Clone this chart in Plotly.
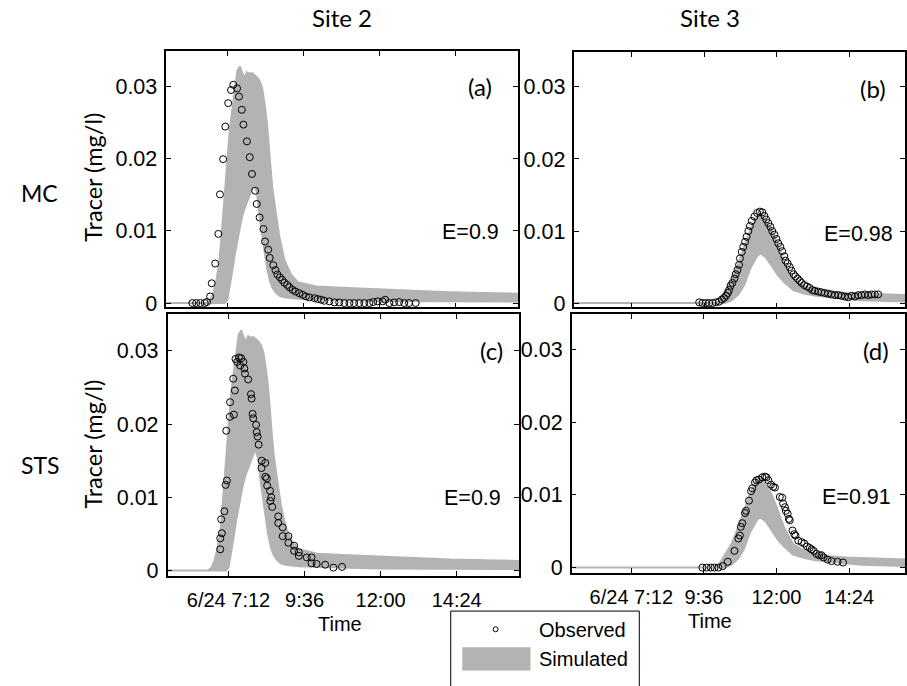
import plotly.graph_objects as go

# ---------------- data (time = hours of 6/24, concentration = mg/l) ----------------
tick_vals = [7.2, 9.6, 12.0, 14.4]
tick_text = ["6/24 7:12", "9:36", "12:00", "14:24"]
y_tick_vals = [0, 0.01, 0.02, 0.03]
y_tick_text = ["0", "0.01", "0.02", "0.03"]

# Site 2 simulated envelope
sim2_time = [5.28, 6.55, 6.65, 6.75, 6.85, 6.95, 7.05, 7.12, 7.20, 7.28, 7.36, 7.44, 7.52, 7.60, 7.68,
             7.75, 7.82, 7.90, 7.98, 8.06, 8.14, 8.22, 8.30, 8.38, 8.45, 8.55, 8.62, 8.72, 8.85, 9.00,
             9.20, 9.42, 10.0, 11.0, 12.0, 13.1, 14.2, 15.3, 16.36]
sim2_upper = [0, 0, 0.0003, 0.0012, 0.0030, 0.0055, 0.0110, 0.0150, 0.0205, 0.0240, 0.0268, 0.0297,
              0.0322, 0.0328, 0.0318, 0.0313, 0.0320, 0.0318, 0.0319, 0.0316, 0.0313, 0.0308, 0.0298,
              0.0275, 0.0250, 0.0195, 0.0160, 0.0128, 0.0090, 0.0060, 0.0040, 0.0029, 0.0023, 0.0021,
              0.0019, 0.0017, 0.0015, 0.0014, 0.0013]
sim2_lower = [0, 0, 0, 0, 0, 0, 0, 0, 0.0004, 0.0022, 0.0045, 0.0068, 0.0088, 0.0105, 0.0122, 0.0132,
              0.0140, 0.0150, 0.0158, 0.0165, 0.0152, 0.0120, 0.0093, 0.0070, 0.0050, 0.0030, 0.0022,
              0.0015, 0.0010, 0.0008, 0.0007, 0.0006, 0.0005, 0.0004, 0.0003, 0.0003, 0.0002, 0.0002,
              0.0002]

# Site 3 simulated envelope
sim3_time = [5.27, 9.90, 10.07, 10.29, 10.51, 10.73, 10.92, 11.12, 11.33, 11.45, 11.63, 11.83, 12.05,
             12.25, 12.55, 12.93, 13.30, 13.70, 14.30, 14.81, 15.50, 16.36]
sim3_upper = [0, 0, 0.0002, 0.0018, 0.0032, 0.0055, 0.0078, 0.0101, 0.0119, 0.0123, 0.0114, 0.0101,
              0.0078, 0.0055, 0.0032, 0.0023, 0.0019, 0.0016, 0.0014, 0.0013, 0.0012, 0.0011]
sim3_lower = [0, 0, 0, 0, 0.0004, 0.0012, 0.0025, 0.0048, 0.0064, 0.0069, 0.0064, 0.0052, 0.0038,
              0.0029, 0.0018, 0.0013, 0.0010, 0.0008, 0.0006, 0.0004, 0.0003, 0.0002]

# (a) MC, Site 2 observed
obs_a_time = [6.10, 6.22, 6.35, 6.49, 6.56, 6.66, 6.71, 6.82, 6.92, 6.97, 7.07, 7.14, 7.23, 7.32, 7.39,
              7.51, 7.57, 7.66, 7.71, 7.82, 7.91, 7.98, 8.08, 8.13, 8.22, 8.34, 8.39, 8.49, 8.54, 8.65,
              8.72, 8.78, 8.86, 8.93, 9.00, 9.09, 9.16, 9.26, 9.35, 9.47, 9.58, 9.68, 9.79, 9.95, 10.05,
              10.16, 10.26, 10.42, 10.58, 10.73, 10.89, 11.05, 11.20, 11.36, 11.52, 11.68, 11.80, 11.94,
              12.10, 12.18, 12.31, 12.46, 12.62, 12.78, 12.93, 13.14]
obs_a_conc = [0, 0, 0, 0, 0.00014, 0.00091, 0.00274, 0.00548, 0.00959, 0.01507, 0.01995, 0.02447,
              0.02772, 0.02954, 0.03027, 0.02977, 0.02863, 0.02680, 0.02475, 0.02242, 0.02023, 0.01790,
              0.01557, 0.01374, 0.01187, 0.01027, 0.00854, 0.00740, 0.00626, 0.00525, 0.00457, 0.00397,
              0.00356, 0.00320, 0.00283, 0.00251, 0.00219, 0.00183, 0.00160, 0.00137, 0.00114, 0.00091,
              0.00078, 0.00068, 0.00055, 0.00046, 0.00032, 0.00023, 0.00009, 0.00009, 0, 0, 0, 0, 0, 0,
              0.00014, 0.00023, 0.00023, 0.00046, 0, 0.00009, 0.00014, 0, 0, 0]

# (b) MC, Site 3 observed
obs_b_time = [9.43, 9.54, 9.65, 9.76, 9.87, 9.98, 10.09, 10.18, 10.25, 10.32, 10.38, 10.42, 10.47,
              10.53, 10.60, 10.64, 10.70, 10.75, 10.78, 10.84, 10.89, 10.95, 11.00, 11.06, 11.11, 11.17,
              11.26, 11.35, 11.44, 11.52, 11.59, 11.65, 11.72, 11.79, 11.85, 11.92, 11.99, 12.05, 12.12,
              12.18, 12.25, 12.29, 12.36, 12.43, 12.49, 12.56, 12.62, 12.69, 12.76, 12.82, 12.91, 13.00,
              13.09, 13.18, 13.26, 13.37, 13.48, 13.59, 13.70, 13.81, 13.93, 14.04, 14.14, 14.26, 14.37,
              14.48, 14.59, 14.70, 14.81, 14.92, 15.03, 15.14, 15.25, 15.36]
obs_b_conc = [0.0001, 0, 0, 0, 0, 0.0001, 0.0002, 0.0005, 0.0007, 0.0010, 0.0014, 0.0018, 0.0024,
              0.0028, 0.0034, 0.0040, 0.0046, 0.0053, 0.0062, 0.0071, 0.0078, 0.0085, 0.0092, 0.0100,
              0.0107, 0.0114, 0.0120, 0.0125, 0.0127, 0.0126, 0.0121, 0.0116, 0.0111, 0.0106, 0.0100,
              0.0095, 0.0089, 0.0083, 0.0078, 0.0072, 0.0065, 0.0059, 0.0055, 0.0050, 0.0045, 0.0040,
              0.0037, 0.0034, 0.0031, 0.0028, 0.0025, 0.0023, 0.0021, 0.0018, 0.0017, 0.0016, 0.0015,
              0.0014, 0.0013, 0.0012, 0.0011, 0.0011, 0.0010, 0.0009, 0.0008, 0.0010, 0.0009, 0.0011,
              0.0011, 0.0012, 0.0011, 0.0012, 0.0012, 0.0012]

# (c) STS, Site 2 observed
obs_c_time = [6.94, 6.94, 6.99, 6.97, 7.07, 7.11, 7.15, 7.13, 7.24, 7.37, 7.25, 7.40, 7.35, 7.42, 7.53,
              7.60, 7.47, 7.57, 7.67, 7.70, 7.72, 7.82, 7.91, 7.93, 7.96, 7.98, 8.07, 8.09, 8.12, 8.15,
              8.25, 8.24, 8.36, 8.36, 8.41, 8.42, 8.51, 8.55, 8.52, 8.58, 8.77, 8.77, 8.91, 8.91, 9.09,
              9.09, 9.27, 9.27, 9.42, 9.42, 9.67, 9.82, 9.82, 9.98, 10.25, 10.51, 10.78]
obs_c_conc = [0.0029, 0.0044, 0.0051, 0.0070, 0.0081, 0.0117, 0.0123, 0.0191, 0.0210, 0.0213, 0.0230,
              0.0246, 0.0262, 0.0289, 0.0291, 0.0290, 0.0285, 0.0280, 0.0285, 0.0276, 0.0269, 0.0261,
              0.0241, 0.0235, 0.0214, 0.0208, 0.0199, 0.0189, 0.0183, 0.0172, 0.0150, 0.0140, 0.0147,
              0.0128, 0.0126, 0.0116, 0.0109, 0.0100, 0.0095, 0.0087, 0.0074, 0.0065, 0.0059, 0.0047,
              0.0047, 0.0038, 0.0034, 0.0027, 0.0025, 0.0020, 0.0018, 0.0018, 0.0010, 0.0009, 0.0008,
              0.0004, 0.0005]

# (d) STS, Site 3 observed
obs_d_time = [9.55, 9.69, 9.83, 9.95, 10.08, 10.22, 10.39, 10.61, 10.74, 10.79, 10.82, 10.87, 10.96,
              10.99, 11.09, 11.16, 11.20, 11.29, 11.34, 11.42, 11.53, 11.62, 11.67, 11.73, 11.82, 11.89,
              11.95, 12.11, 12.19, 12.22, 12.28, 12.31, 12.37, 12.41, 12.44, 12.53, 12.59, 12.63, 12.72,
              12.83, 12.92, 13.01, 13.10, 13.16, 13.23, 13.32, 13.41, 13.49, 13.56, 13.69, 13.82, 14.02,
              14.20]
obs_d_conc = [0, 0, 0, 0, 0, 0.0002, 0.0008, 0.0023, 0.0040, 0.0044, 0.0056, 0.0061, 0.0075, 0.0078,
              0.0092, 0.0105, 0.0109, 0.0117, 0.0120, 0.0121, 0.0124, 0.0125, 0.0124, 0.0120, 0.0114,
              0.0111, 0.0110, 0.0097, 0.0096, 0.0088, 0.0083, 0.0078, 0.0074, 0.0067, 0.0065, 0.0051,
              0.0046, 0.0044, 0.0037, 0.0035, 0.0033, 0.0029, 0.0027, 0.0025, 0.0023, 0.0019, 0.0017,
              0.0017, 0.0014, 0.0011, 0.0009, 0.0008, 0.0007]

panel_labels = ["(a)", "(b)", "(c)", "(d)"]
efficiency = ["E=0.9", "E=0.98", "E=0.9", "E=0.91"]
site_titles = ["Site 2", "Site 3"]
method_labels = ["MC", "STS"]

# ---------------- layout helpers ----------------
W, H = 907, 686
GRAY = "rgb(179,179,179)"
ARIAL = "Liberation Sans"
CAL = "Lato"


def px(x):
    return x / W


def py(y):
    return 1 - y / H


panels = [
    dict(t=sim2_time, lo=sim2_lower, hi=sim2_upper, ot=obs_a_time, oc=obs_a_conc,
         box=(166.7, 52, 519, 311), xr=[5.28, 16.36], yr=[-0.0006, 0.0349], xl=False,
         lab=(481, 88), e=(472, 235)),
    dict(t=sim3_time, lo=sim3_lower, hi=sim3_upper, ot=obs_b_time, oc=obs_b_conc,
         box=(575.7, 53, 907, 311), xr=[5.295, 16.25], yr=[-0.0006, 0.0348], xl=False,
         lab=(875, 90), e=(860, 237)),
    dict(t=sim2_time, lo=sim2_lower, hi=sim2_upper, ot=obs_c_time, oc=obs_c_conc,
         box=(168, 318, 520, 582.5), xr=[5.28, 16.36], yr=[-0.0007, 0.0350], xl=True,
         lab=(493, 355), e=(474, 504)),
    dict(t=sim3_time, lo=sim3_lower, hi=sim3_upper, ot=obs_d_time, oc=obs_d_conc,
         box=(573, 318, 907, 579.3), xr=[5.23, 16.25], yr=[-0.00068, 0.0348], xl=True,
         lab=(878, 355), e=(858, 503)),
]

fig = go.Figure()
annotations = []
layout_axes = {}


def ann(text, x, y, size, family, angle=0, xanchor="center"):
    annotations.append(dict(text=text, x=px(x), y=py(y), xref="paper", yref="paper",
                            showarrow=False, textangle=angle, xanchor=xanchor, yanchor="middle",
                            font=dict(family=family, size=size, color="black")))


for i, p in enumerate(panels):
    n = "" if i == 0 else str(i + 1)
    xa, ya = "x" + n, "y" + n
    band_x = list(p["t"]) + list(p["t"])[::-1]
    band_y = list(p["hi"]) + list(p["lo"])[::-1]
    fig.add_trace(go.Scatter(x=band_x, y=band_y, fill="toself", fillcolor=GRAY, mode="lines",
                             line=dict(color=GRAY, width=2), xaxis=xa, yaxis=ya,
                             showlegend=False, hoverinfo="skip"))
    fig.add_trace(go.Scatter(x=p["ot"], y=p["oc"], mode="markers", xaxis=xa, yaxis=ya,
                             marker=dict(symbol="circle-open", size=7, color="black",
                                         line=dict(width=1, color="black")),
                             showlegend=False))
    x0, y0, x1, y1 = p["box"]
    common = dict(ticks="inside", ticklen=5, tickwidth=1, tickcolor="black", showline=True,
                  linecolor="black", linewidth=1.5, mirror="ticks", showgrid=False, zeroline=False)
    layout_axes["xaxis" + n] = dict(domain=[px(x0), min(1.0, px(x1))], range=p["xr"],
                                    anchor=ya, tickmode="array", tickvals=tick_vals,
                                    ticktext=tick_text, showticklabels=p["xl"],
                                    ticklabelstandoff=6,
                                    tickfont=dict(family=ARIAL, size=20, color="black"), **common)
    layout_axes["yaxis" + n] = dict(domain=[py(y1), py(y0)], range=p["yr"], anchor=xa,
                                    tickmode="array", tickvals=y_tick_vals, ticktext=y_tick_text,
                                    ticklabelstandoff=3,
                                    tickfont=dict(family=ARIAL, size=21.5, color="black"), **common)
    ann(panel_labels[i], p["lab"][0], p["lab"][1], 24, CAL)
    ann(efficiency[i], p["e"][0], p["e"][1], 21.5, ARIAL)


ann(site_titles[0], 343, 18, 24, CAL)
ann(site_titles[1], 712, 18, 24, CAL)
ann(method_labels[0], 40, 195, 23, CAL)
ann(method_labels[1], 40, 470, 23, CAL)
ann("Tracer (mg/l)", 93, 179, 23.5, CAL, angle=-90)
ann("Tracer (mg/l)", 93, 449, 23.5, CAL, angle=-90)
ann("Time", 341, 631, 20, ARIAL)
ann("Time", 712, 628, 20, ARIAL)

# legend (drawn manually to match the boxed legend below the panels)
ann("Observed", 538, 637, 20, ARIAL, xanchor="left")
ann("Simulated", 538, 667, 20, ARIAL, xanchor="left")
shapes = [
    dict(type="rect", xref="paper", yref="paper", x0=px(451.7), x1=px(640.7), y0=py(700),
         y1=py(618.3), line=dict(color="black", width=1), fillcolor="rgba(0,0,0,0)"),
    dict(type="rect", xref="paper", yref="paper", x0=px(463.3), x1=px(531.7), y0=py(678.3),
         y1=py(655), line=dict(width=0), fillcolor=GRAY),
    dict(type="circle", xref="paper", yref="paper", x0=px(494.2), x1=px(499.2), y0=py(639.2),
         y1=py(634.2), line=dict(color="black", width=1), fillcolor="rgba(0,0,0,0)"),
]

fig.update_layout(width=W, height=H, autosize=False, margin=dict(l=0, r=0, t=0, b=0),
                  paper_bgcolor="white", plot_bgcolor="white", showlegend=False,
                  annotations=annotations, shapes=shapes, **layout_axes)

fig.write_html("out.html", config={"displayModeBar": False},
               post_script="document.body.style.margin='0';document.body.style.overflow='hidden';")
